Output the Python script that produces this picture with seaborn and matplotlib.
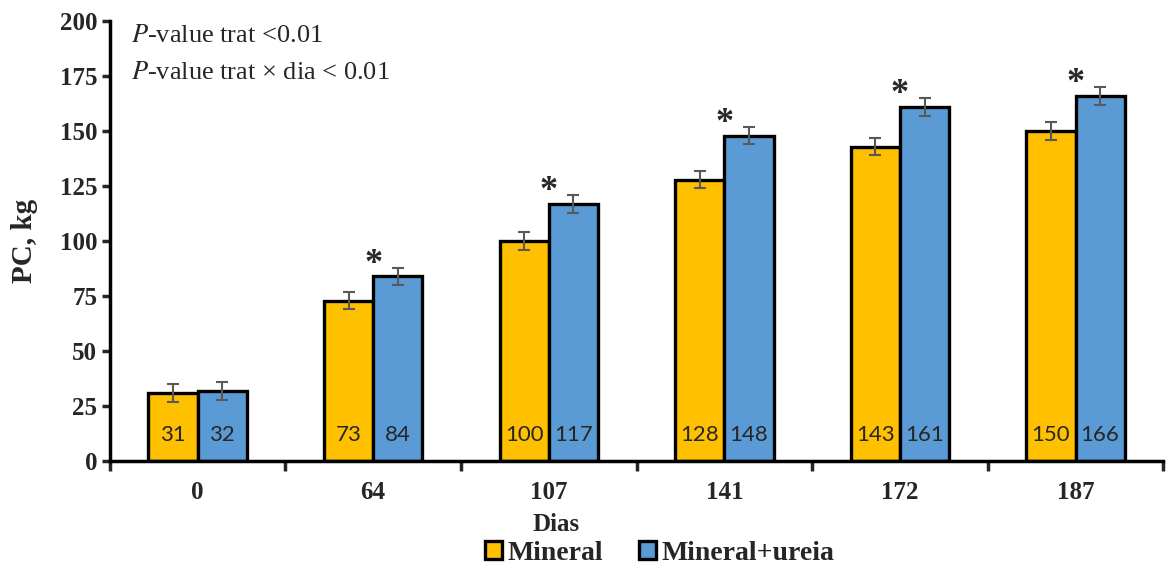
import numpy as np
import pandas as pd
import matplotlib.pyplot as plt
import seaborn as sns

# dados
dias = ['0', '64', '107', '141', '172', '187']
mineral = [31, 73, 100, 128, 143, 150]
ureia = [32, 84, 117, 148, 161, 166]
erro_mineral = [4, 4, 4, 4, 4, 4]
erro_ureia = [4, 4, 4, 4, 4, 4]
signif = [False, True, True, True, True, True]
tratamentos = ['Mineral', 'Mineral+ureia']
cores = ['#FFC000', '#5B9BD5']

df = pd.DataFrame({
    'Dias': dias * 2,
    'PC': mineral + ureia,
    'Trat': [tratamentos[0]] * len(dias) + [tratamentos[1]] * len(dias),
})

sns.set_style('white')
plt.rcParams['font.family'] = ['Liberation Serif', 'DejaVu Serif']
plt.rcParams['mathtext.fontset'] = 'stix'

fig = plt.figure(figsize=(11.68, 5.7), dpi=100)
ax = fig.add_axes([0.094, 0.191, 0.902, 0.772])

sns.barplot(data=df, x='Dias', y='PC', hue='Trat', order=dias, hue_order=tratamentos,
            palette=cores, saturation=1, width=0.56, edgecolor='black', linewidth=2.4,
            errorbar=None, ax=ax, legend=True)

# barras de erro, rotulos e asteriscos
erros = [erro_mineral, erro_ureia]
valores = [mineral, ureia]
barras = list(ax.containers)
for k, cont in enumerate(barras):
    for i, bar in enumerate(cont):
        xc = bar.get_x() + bar.get_width() / 2
        h = bar.get_height()
        ax.errorbar(xc, h, yerr=erros[k][i], color='#595959', capsize=4.5,
                    elinewidth=1.5, capthick=1.5, zorder=5)
        ax.text(xc, 12, str(valores[k][i]), ha='center', va='center',
                fontsize=16, family=['Lato', 'DejaVu Sans'], zorder=6)
        if k == 1 and signif[i]:
            ax.text(bar.get_x(), h + erros[k][i] + 1.5, '*', ha='center', va='center',
                    fontsize=26, fontweight='bold', zorder=6)

ax.set_xlim(-0.5, len(dias) - 0.5)
ax.set_ylim(0, 200)
ax.set_yticks(np.arange(0, 201, 25))
ax.tick_params(axis='y', labelsize=18, direction='out', length=6, width=2.5, left=True, pad=3)
for t in ax.get_yticklabels():
    t.set_fontweight('bold')

# ticks do eixo x nas divisoes entre grupos
ax.set_xticks(np.arange(-0.5, len(dias), 1.0))
ax.set_xticklabels([''] * (len(dias) + 1))
ax.set_xticks(np.arange(len(dias)), minor=True)
ax.set_xticklabels(dias, minor=True, fontsize=18, fontweight='bold')
ax.tick_params(axis='x', which='major', direction='out', length=7, width=2.5, bottom=True)
ax.tick_params(axis='x', which='minor', length=0, pad=14)

for s in ['top', 'right']:
    ax.spines[s].set_visible(False)
for s in ['left', 'bottom']:
    ax.spines[s].set_linewidth(2.5)
    ax.spines[s].set_color('black')

ax.set_xlabel('Dias', fontsize=18, fontweight='bold', labelpad=7)
ax.xaxis.label.set_x(0.424)
ax.set_ylabel('PC, kg', fontsize=21, fontweight='bold', labelpad=16)

ax.text(0.02, 0.967, r'$\mathit{P}$-value trat <0.01', transform=ax.transAxes,
        fontsize=19, va='center')
ax.text(0.02, 0.882, r'$\mathit{P}$-value trat × dia < 0.01', transform=ax.transAxes,
        fontsize=19, va='center')

handles, labels = ax.get_legend_handles_labels()
ax.get_legend().remove()
fig.legend(handles, labels, loc='lower center', bbox_to_anchor=(0.565, -0.037), ncol=2,
           frameon=False, prop={'size': 20, 'weight': 'bold'},
           handlelength=0.6, handleheight=0.6, handletextpad=0.2, columnspacing=1.3)

fig.savefig('out.png', dpi=100)
